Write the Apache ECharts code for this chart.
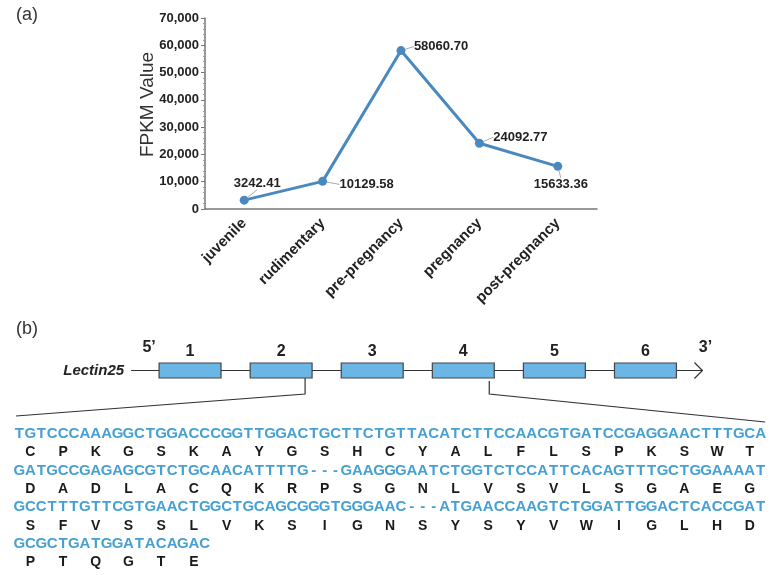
<!DOCTYPE html>
<html><head><meta charset="utf-8">
<script src="https://cdn.jsdelivr.net/npm/echarts@6/dist/echarts.min.js"></script>
<style>html,body{margin:0;padding:0;background:#fff}#c{width:774px;height:575px}</style>
</head><body><div id="c"></div>
<script>
// ---- data ----
const stages = ['juvenile', 'rudimentary', 'pre-pregnancy', 'pregnancy', 'post-pregnancy'];
const fpkm = [3242.41, 10129.58, 58060.70, 24092.77, 15633.36];
const exons = ['1', '2', '3', '4', '5', '6'];
const geneName = 'Lectin25';
const ntLines = [
  'TGTCCCAAAGGCTGGACCCGGTTGGACTGCTTCTGTTACATCTTCCAACGTGATCCGAGGAACTTTGCA',
  'GATGCCGAGAGCGTCTGCAACATTTTG---GAAGGGAATCTGGTCTCCATTCACAGTTTGCTGGAAAAT',
  'GCCTTTGTTCGTGAACTGGCTGCAGCGGGTGGGAAC---ATGAACCAAGTCTGGATTGGACTCACCGAT',
  'GCGCTGATGGATACAGAC'
];
const aaLines = [
  ['C','P','K','G','S','K','A','Y','G','S','H','C','Y','A','L','F','L','S','P','K','S','W','T'],
  ['D','A','D','L','A','C','Q','K','R','P','S','G','N','L','V','S','V','L','S','G','A','E','G'],
  ['S','F','V','S','S','L','V','K','S','I','G','N','S','Y','S','Y','V','W','I','G','L','H','D'],
  ['P','T','Q','G','T','E']
];

// ---- style ----
const FONT = '"Liberation Sans", Arial, sans-serif';
const NARROW = '"Liberation Sans Narrow", "Arial Narrow", "Liberation Sans", Arial, sans-serif';
const lineColor = '#4a89c0';
const ntColor = '#45a0d4';
const labelOffsets = [[13,-17],[44,3],[40,-4],[41,-6],[3,18]];

const chart = echarts.init(document.getElementById('c'), null, {renderer: 'canvas'});

chart.setOption({
  animation: false,
  backgroundColor: '#fff',
  grid: [
    {left: 205, top: 18, width: 392, height: 191},
    {left: 144.5, top: 363, width: 546.5, height: 15}
  ],
  xAxis: [
    {
      type: 'category', data: stages, gridIndex: 0, boundaryGap: true,
      axisLine: {show: true, lineStyle: {color: '#777', width: 1.5}},
      axisTick: {show: false},
      axisLabel: {rotate: 45, fontFamily: FONT, fontWeight: 'bold', fontSize: 15, color: '#222', margin: 12, interval: 0}
    },
    {type: 'category', data: exons, gridIndex: 1, boundaryGap: true, show: false}
  ],
  yAxis: [
    {
      type: 'value', gridIndex: 0, min: 0, max: 70000, interval: 10000,
      name: 'FPKM Value', nameLocation: 'middle', nameGap: 48, nameMoveOverlap: false,
      nameTextStyle: {fontFamily: FONT, fontSize: 19, color: '#333', padding: [0, 0, 0, 18]},
      axisLine: {show: true, lineStyle: {color: '#777', width: 1.5}},
      axisTick: {show: true, length: 4, lineStyle: {color: '#777'}},
      minorTick: {show: true, splitNumber: 5, length: 2, lineStyle: {color: '#999'}},
      splitLine: {show: false},
      axisLabel: {fontFamily: FONT, fontWeight: 'bold', fontSize: 13, color: '#222', margin: 6}
    },
    {type: 'value', gridIndex: 1, min: 0, max: 1, show: false}
  ],
  series: [
    {
      type: 'line', xAxisIndex: 0, yAxisIndex: 0, data: fpkm,
      symbol: 'circle', symbolSize: 9,
      lineStyle: {color: lineColor, width: 3},
      itemStyle: {color: lineColor},
      label: {
        show: true, position: 'inside', fontFamily: FONT, fontWeight: 'bold', fontSize: 13, color: '#222',
        formatter: p => p.value.toFixed(2)
      },
      labelLine: {show: true, lineStyle: {color: '#aaa', width: 1}},
      labelLayout: p => ({dx: labelOffsets[p.dataIndex][0], dy: labelOffsets[p.dataIndex][1]}),
      z: 5
    },
    {
      type: 'custom', xAxisIndex: 1, yAxisIndex: 1,
      data: exons.map((e, i) => [i, 1]),
      renderItem: function (params, api) {
        const i = api.value(0);
        const top = api.coord([i, 1]);
        const bot = api.coord([i, 0]);
        const w = api.size([1, 0])[0] * 0.68;
        return {
          type: 'group',
          children: [
            {type: 'rect', shape: {x: top[0] - w / 2, y: top[1], width: w, height: bot[1] - top[1]},
             style: {fill: '#6cb6e6', stroke: '#444', lineWidth: 1.2}},
            {type: 'text', style: {x: top[0], y: top[1] - 3, text: exons[i], textAlign: 'center', textVerticalAlign: 'bottom',
             font: 'bold 16px ' + NARROW, fill: '#222'}}
          ]
        };
      },
      z: 4
    }
  ]
});

// ---- decorations derived from the exon axis ----
const band = chart.getModel().getComponent('xAxis', 1).axis.getBandWidth();
const cx = i => chart.convertToPixel({xAxisIndex: 1}, i);
const exLeft = i => cx(i) - band * 0.34;
const exRight = i => cx(i) + band * 0.34;
const yMid = chart.convertToPixel({yAxisIndex: 1}, 0.5);
const yBot = chart.convertToPixel({yAxisIndex: 1}, 0);

const g = [];
g.push({type: 'text', left: 16, top: 6, style: {text: '(a)', font: '18px ' + FONT, fill: '#333'}});
g.push({type: 'text', left: 16, top: 320, style: {text: '(b)', font: '18px ' + FONT, fill: '#333'}});

const lineStart = exLeft(0) - 28, lineEnd = exRight(5) + 26;
g.push({type: 'line', shape: {x1: lineStart, y1: yMid, x2: lineEnd, y2: yMid}, style: {stroke: '#333', lineWidth: 1.2}, z: 1});
g.push({type: 'polyline', shape: {points: [[lineEnd - 8, yMid - 8], [lineEnd, yMid], [lineEnd - 8, yMid + 8]]}, style: {stroke: '#333', lineWidth: 1.2, fill: null}, z: 1});
g.push({type: 'text', x: lineStart - 7, y: yMid, style: {text: geneName, textAlign: 'right', textVerticalAlign: 'middle', font: 'italic bold 15px ' + NARROW, fill: '#222'}});
g.push({type: 'text', x: lineStart + 18, y: 348, style: {text: '5\u2019', textAlign: 'center', textVerticalAlign: 'middle', font: 'bold 16px ' + NARROW, fill: '#222'}});
g.push({type: 'text', x: lineEnd + 3, y: 348, style: {text: '3\u2019', textAlign: 'center', textVerticalAlign: 'middle', font: 'bold 16px ' + NARROW, fill: '#222'}});

// sequence layout
const x0 = 14, pitch = 10.9, ntY0 = 434, aaY0 = 452.5, rowStep = 36.6;
const seqRight = x0 + 69 * pitch;
// brackets from exon 2 and exon 4 to the sequence block
const bx1 = exRight(1) - 7, bx2 = exRight(3) - 5;
g.push({type: 'polyline', shape: {points: [[bx1, yBot], [bx1, 394], [x0 + 2, 416]]}, style: {stroke: '#333', lineWidth: 1.2, fill: null}});
g.push({type: 'polyline', shape: {points: [[bx2, yBot + 3], [bx2, 394], [seqRight - 1, 422]]}, style: {stroke: '#333', lineWidth: 1.2, fill: null}});

ntLines.forEach((line, r) => {
  for (let k = 0; k < line.length; k++) {
    g.push({type: 'text', x: x0 + (k + 0.5) * pitch, y: ntY0 + r * rowStep,
      style: {text: line[k], textAlign: 'center', textVerticalAlign: 'middle', font: 'bold 15px ' + FONT, fill: ntColor}});
  }
});
aaLines.forEach((row, r) => {
  row.forEach((a, k) => {
    g.push({type: 'text', x: x0 + (3 * k + 1.5) * pitch, y: aaY0 + r * rowStep,
      style: {text: a, textAlign: 'center', textVerticalAlign: 'middle', font: 'bold 14px ' + FONT, fill: '#1a1a1a'}});
  });
});

chart.setOption({graphic: g});
</script>
</body></html>
